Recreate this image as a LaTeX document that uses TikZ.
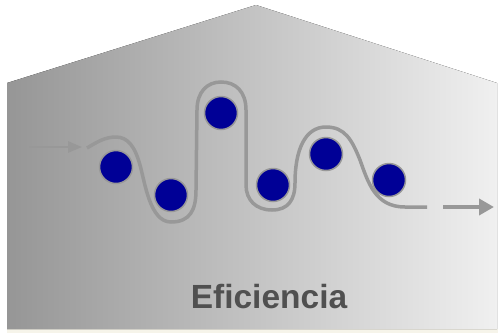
\documentclass[tikz,border=0pt]{standalone}
\usepackage{fontspec}
\setmainfont{Liberation Sans}
\usepackage{xcolor}
\usepackage{tikz}
\usetikzlibrary{arrows.meta}
\definecolor{wallleft}{RGB}{150,150,150}
\definecolor{wallright}{RGB}{240,240,240}
\definecolor{ballblue}{RGB}{0,0,150}
\definecolor{wiregray}{RGB}{152,152,152}
\definecolor{faintgray}{RGB}{152,152,152}
\definecolor{labelgray}{RGB}{80,80,80}
\definecolor{softcream}{RGB}{246,244,234}

\begin{document}
\begin{tikzpicture}[x=1pt, y=-1pt,
  ball/.style={circle, fill=ballblue, draw=wiregray, line width=1.5pt, minimum size=33pt, inner sep=0pt},
  wire/.style={draw=wiregray, line width=3.5pt}]
\useasboundingbox (0,0) rectangle (498,333);
\fill[softcream] (7,329) rectangle (498,333);
\fill[left color=wallleft, right color=wallright] (7,329) -- (7,83) -- (256,5) -- (497,83) -- (497,329) -- cycle;
% path through the balls
\draw[wire] (87,148) .. controls (97,142) and (105,137) .. (116,137)
  .. controls (128,137) and (135,147) .. (140,165)
  .. controls (145,183) and (150,222) .. (171,222)
  .. controls (190,222) and (196,210) .. (196,190)
  -- (197,110)
  .. controls (197,92) and (207,82) .. (221,82)
  .. controls (236,82) and (246,92) .. (246,110)
  -- (246,185)
  .. controls (246,200) and (256,210) .. (272,210)
  .. controls (288,210) and (295,200) .. (295,183)
  .. controls (295,150) and (305,127) .. (326,127)
  .. controls (345,127) and (352,140) .. (360,160)
  .. controls (368,182) and (375,207) .. (405,207)
  -- (427,207);
\node[ball] (b1) at (116,167) {};
\node[ball] (b2) at (171,195) {};
\node[ball] (b3) at (221,113) {};
\node[ball] (b4) at (273,185) {};
\node[ball] (b5) at (326,154) {};
\node[ball] (b6) at (389,180) {};
\coordinate (inA) at (29,147);
\coordinate (inB) at (82,147);
\coordinate (outA) at (443,207);
\coordinate (outB) at (494,207);
\draw[-{Triangle[length=14pt,width=11pt]}, faintgray, line width=2.5pt] (inA) -- (inB);
\draw[-{Triangle[length=15pt,width=16pt]}, wiregray, line width=4pt] (outA) -- (outB);
\node[font=\bfseries\fontsize{33.5}{36}\selectfont, text=labelgray, anchor=base] (eff) at (269,308) {Eficiencia};
\end{tikzpicture}
\end{document}
